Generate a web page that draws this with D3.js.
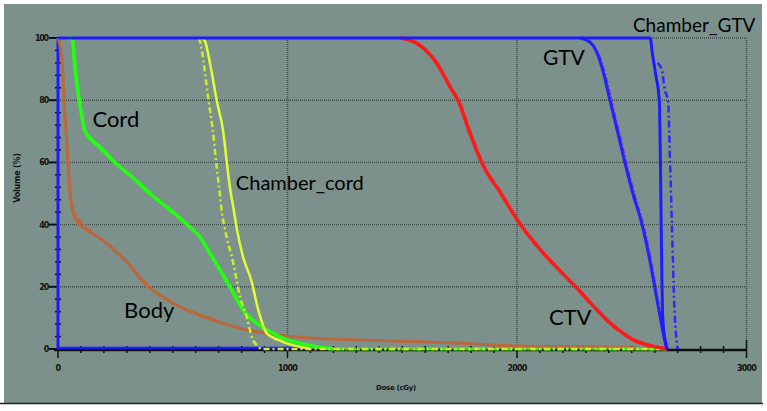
<!DOCTYPE html>
<html>
<head>
<meta charset="utf-8">
<script src="https://cdn.jsdelivr.net/npm/d3@7"></script>
<style>
  body { margin: 0; background: #fff; }
  svg { display: block; }
</style>
</head>
<body>
<script>
// dose (cGy), volume (%)
const bodySolid = [[0,100],[10,97],[20,90],[26,80],[35,70],[43,60],[50,52],[56,48],[65,44],[78,41.5],[96,40],[140,37.5],[196,35],[250,31.5],[300,28],[392,20],[450,17],[562,12.5],[619,11],[700,8.8],[764,7.2],[909,5],[1054,3.8],[1142,3.4],[1400,2.7],[1708,2],[2000,1],[2300,0.7],[2450,0.5],[2600,0]];
const bodyDash = [[0,100],[12,96],[24,85],[32,74],[45,60],[55,50],[70,44],[100,41],[150,37.5],[210,34],[300,28],[400,20],[560,12.5],[764,7.3],[1054,3.8],[1708,2],[2000,1],[2450,0.5],[2600,0]];
const cordSolid = [[40,100],[61,100],[74,90],[92,80],[118,70],[135,68],[183,65],[248,60],[327,55],[400,50],[501,44],[562,40],[618,36],[660,31],[706,25.4],[764,18],[807,12.5],[866,8.3],[924,5.6],[982,3.4],[1054,1.8],[1127,0.7],[1200,0]];
const cordDash = [[45,100],[66,99],[78,90],[95,80],[120,70],[140,68],[190,64],[255,59.5],[330,55],[405,50],[505,43.5],[570,39.5],[625,35.5],[665,30.5],[712,25],[770,17.5],[812,12],[870,8],[930,5.3],[990,3.2],[1060,1.6],[1130,0.6],[1200,0],[2650,0]];
const chamberCordSolid = [[625,100],[640,99],[662,92],[693,79.4],[719,70.4],[736,59.8],[749,52],[765,45],[780,38.3],[805,30],[844,21.6],[873,12.5],[910,5],[960,2.9],[997,1.8],[1054,0.7],[1100,0]];
const chamberCordDash = [[615,100],[627,96],[654,81],[675,70],[693,57.5],[705,50],[714,44],[728,38.3],[764,27.5],[793,16.8],[822,10.4],[844,4],[873,0.7],[890,0],[2650,0]];
const ctvSolid = [[1490,100],[1563,98.3],[1650,91.9],[1708,84.3],[1743,80],[1792,70],[1846,60],[1930,50],[2015,40],[2113,31],[2187,25.2],[2261,19.6],[2333,13.8],[2405,8.4],[2460,5.2],[2505,3],[2560,1.5],[2610,0.6],[2654,0]];
const ctvDash = [[1500,100],[1568,98.1],[1654,91.5],[1712,83.9],[1747,79.6],[1796,69.6],[1850,59.6],[1934,49.6],[2019,39.6],[2117,30.6],[2191,24.8],[2265,19.2],[2337,13.4],[2409,8],[2464,4.9],[2510,2.7],[2565,1.3],[2615,0.5],[2660,0]];
const gtvSolid = [[2274,100],[2320,98.5],[2350,95],[2378,88.5],[2405,80],[2438,70],[2470,60],[2505,50],[2545,40],[2575,30],[2600,20],[2622,11],[2640,4],[2654,0]];
const gtvDash = [[2285,100],[2328,98],[2356,94.5],[2384,88],[2411,79.5],[2444,69.5],[2476,59.5],[2511,49.5],[2550,39.5],[2580,29.5],[2604,19.5],[2626,10.5],[2643,3.6],[2658,0]];
const chamberGtvSolid = [[0,100],[2580,100],[2590,95],[2605,88],[2620,80],[2625,60],[2630,30],[2635,10],[2645,3],[2654,0]];
const chamberGtvDash = [[2612,92],[2630,90],[2645,83],[2658,80],[2667,60],[2675,40],[2685,15],[2695,3],[2700,0]];

const xTicks = [0, 1000, 2000, 3000];
const yTicks = [0, 20, 40, 60, 80, 100];

const curveLabels = [
  {text: "Cord", dose: 150, vol: 71.5, size: 22},
  {text: "Chamber_cord", dose: 775, vol: 51, size: 20},
  {text: "Body", dose: 288, vol: 10, size: 22},
  {text: "CTV", dose: 2139, vol: 7.7, size: 22},
  {text: "GTV", dose: 2113, vol: 91.3, size: 21},
  {text: "Chamber_GTV", dose: 2505, vol: 102, size: 19}
];

const W = 767, H = 411;
const svg = d3.select("body").append("svg")
              .attr("width", W)
              .attr("height", H)

svg.append("rect")
   .attr("x", 4).attr("y", 4)
   .attr("width", 758).attr("height", 399)
   .attr("fill", "#7c918c")

svg.append("line")
   .attr("x1", 0).attr("x2", 763)
   .attr("y1", 403.5).attr("y2", 403.5)
   .attr("stroke", "#222").attr("stroke-width", 1.5)

const x = d3.scaleLinear().domain([0, 3000]).range([58, 746.5])
const y = d3.scaleLinear().domain([0, 100]).range([349, 38])

// dotted grid
const grid = svg.append("g").attr("stroke", "#3f4d49").attr("stroke-width", 1.4).attr("stroke-dasharray", "1,1")
grid.selectAll("line.h")
    .data(yTicks.filter(d => d > 0))
    .enter().append("line")
    .attr("x1", x(0)).attr("x2", x(3000))
    .attr("y1", d => y(d)).attr("y2", d => y(d))
grid.selectAll("line.v")
    .data(xTicks.filter(d => d > 0))
    .enter().append("line")
    .attr("x1", d => x(d)).attr("x2", d => x(d))
    .attr("y1", y(0)).attr("y2", y(100))

// x axis
const xAxisG = svg.append("g")
xAxisG.append("line")
      .attr("x1", x(0) - 4).attr("x2", x(3000))
      .attr("y1", y(0) + 1).attr("y2", y(0) + 1)
      .attr("stroke", "#111").attr("stroke-width", 2.5)
xAxisG.selectAll("line.minor")
      .data(d3.range(0, 3001, 100))
      .enter().append("line")
      .attr("x1", d => x(d)).attr("x2", d => x(d))
      .attr("y1", d => d % 1000 === 0 ? y(0) - (d === 3000 ? 9 : 2) : y(0) - 3)
      .attr("y2", d => d % 1000 === 0 ? y(0) + 9 : y(0) + 4)
      .attr("stroke", "#111").attr("stroke-width", 1.5)
xAxisG.selectAll("text")
      .data(xTicks)
      .enter().append("text")
      .attr("x", d => x(d))
      .attr("y", y(0) + 22)
      .attr("text-anchor", "middle")
      .attr("font-family", "DejaVu Sans")
      .attr("font-weight", "bold")
      .attr("font-size", 8)
      .attr("letter-spacing", -0.8)
      .attr("fill", "#111")
      .text(d => d)
svg.append("text")
   .attr("x", 396).attr("y", 390)
   .attr("text-anchor", "middle")
   .attr("font-family", "DejaVu Sans")
   .attr("font-weight", "bold")
   .attr("font-size", 7)
   .attr("letter-spacing", -0.3)
   .attr("fill", "#111")
   .text("Dose (cGy)")

// y axis
const yAxisG = svg.append("g")
yAxisG.selectAll("line.minor")
      .data(d3.range(0, 101, 4).filter(d => d % 20 !== 0))
      .enter().append("line")
      .attr("x1", x(0) - 3).attr("x2", x(0) + 3)
      .attr("y1", d => y(d)).attr("y2", d => y(d))
      .attr("stroke", "#111").attr("stroke-width", 1.5)
yAxisG.selectAll("line.major")
      .data(yTicks)
      .enter().append("line")
      .attr("x1", x(0) - 9).attr("x2", x(0))
      .attr("y1", d => y(d)).attr("y2", d => y(d))
      .attr("stroke", "#111").attr("stroke-width", 2)
yAxisG.selectAll("text")
      .data(yTicks)
      .enter().append("text")
      .attr("x", x(0) - 10)
      .attr("y", d => y(d) + 3)
      .attr("text-anchor", "end")
      .attr("font-family", "DejaVu Sans")
      .attr("font-weight", "bold")
      .attr("font-size", 8)
      .attr("letter-spacing", -1.2)
      .attr("fill", "#111")
      .text(d => d)
svg.append("text")
   .attr("transform", "translate(20," + 178 + ") rotate(-90)")
   .attr("text-anchor", "middle")
   .attr("font-family", "DejaVu Sans")
   .attr("font-weight", "bold")
   .attr("font-size", 8)
   .attr("letter-spacing", -0.2)
   .attr("fill", "#111")
   .text("Volume (%)")

// blue baseline and vertical at zero dose
svg.append("line")
   .attr("x1", x(0)).attr("x2", x(1050))
   .attr("y1", y(0) - 1).attr("y2", y(0) - 1)
   .attr("stroke", "#1c1cff").attr("stroke-width", 2.5)
svg.append("line")
   .attr("x1", x(0)).attr("x2", x(0))
   .attr("y1", y(0)).attr("y2", y(100))
   .attr("stroke", "#1c1cff").attr("stroke-width", 3)

const line = d3.line().x(d => x(d[0])).y(d => y(d[1])).curve(d3.curveMonotoneX)

const series = [
  {data: bodyDash, color: "#b9693f", width: 2.5, dash: "7,2,2,2"},
  {data: bodySolid, color: "#b9693f", width: 3, dash: null},
  {data: cordDash, color: "#33ee22", width: 3, dash: "7,2,2,2"},
  {data: cordSolid, color: "#22ff11", width: 3.5, dash: null},
  {data: chamberCordDash, color: "#ccee22", width: 2.5, dash: "6,3,2,3"},
  {data: chamberCordSolid, color: "#ddff33", width: 2.5, dash: null},
  {data: ctvDash, color: "#ee1111", width: 3, dash: "7,2,2,2"},
  {data: ctvSolid, color: "#ff1a1a", width: 3.5, dash: null},
  {data: gtvDash, color: "#8833cc", width: 3, dash: "6,2,2,2"},
  {data: gtvSolid, color: "#2222ff", width: 3, dash: null},
  {data: chamberGtvDash, color: "#2a2aff", width: 2.5, dash: "7,3,2,3"},
  {data: chamberGtvSolid, color: "#1c1cff", width: 3, dash: null}
]

svg.append("g")
   .selectAll("path")
   .data(series)
   .enter().append("path")
   .attr("d", d => line(d.data))
   .attr("fill", "none")
   .attr("stroke", d => d.color)
   .attr("stroke-width", d => d.width)
   .attr("stroke-dasharray", d => d.dash)
   .attr("stroke-linejoin", "round")

svg.append("g")
   .selectAll("text")
   .data(curveLabels)
   .enter().append("text")
   .attr("x", d => x(d.dose))
   .attr("y", d => y(d.vol))
   .attr("font-family", "Lato")
   .attr("font-size", d => d.size)
   .attr("fill", "#000")
   .text(d => d.text)
</script>
</body>
</html>
